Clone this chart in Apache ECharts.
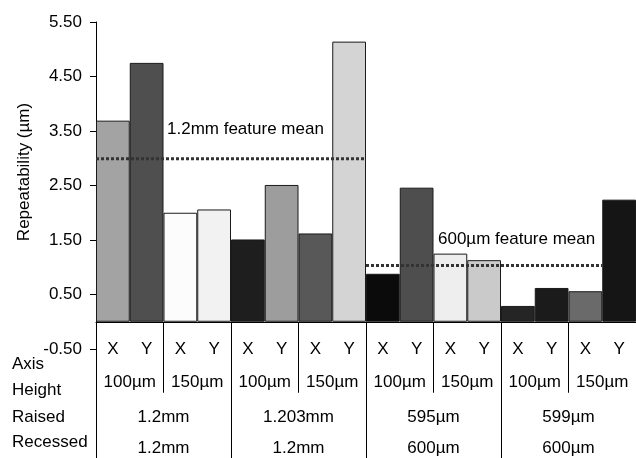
<!DOCTYPE html>
<html>
<head>
<meta charset="utf-8">
<script src="https://cdn.jsdelivr.net/npm/echarts@6/dist/echarts.min.js"></script>
<style>
html,body{margin:0;padding:0;background:#fff;}
#chart{width:636px;height:458px;}
</style>
</head>
<body>
<div id="chart"></div>
<script>
// ---- data ----
var axisLabels = ['X','Y','X','Y','X','Y','X','Y','X','Y','X','Y','X','Y','X','Y'];
var heightLabels = ['100µm','150µm','100µm','150µm','100µm','150µm','100µm','150µm'];
var raisedLabels = ['1.2mm','1.203mm','595µm','599µm'];
var recessedLabels = ['1.2mm','1.2mm','600µm','600µm'];
var repeatability = [3.69, 4.75, 2.00, 2.06, 1.51, 2.51, 1.62, 5.14, 0.88, 2.46, 1.25, 1.13, 0.29, 0.62, 0.56, 2.24];
var yTicks = {min: -0.5, max: 5.5, interval: 1};
var mean12mm = 2.99;   // spans categories 0..8
var mean600um = 1.03;  // spans categories 8..15
var meanLabels = ['1.2mm feature mean', '600µm feature mean'];
var rowNames = ['Axis', 'Height', 'Raised', 'Recessed'];

// ---- layout / styles ----
var GRID = {left: 96, right: 0, top: 22, bottom: 109};
var gridH = 458 - GRID.top - GRID.bottom;
// the category axes (table) sit on the value 0 line
var zeroOffset = -gridH * (0 - yTicks.min) / (yTicks.max - yTicks.min);

var barColors = ['#a3a3a3','#4f4f4f','#fcfcfc','#f2f2f2','#1e1e1e','#9d9d9d','#585858','#d4d4d4',
                 '#0b0b0b','#4e4e4e','#eeeeee','#cacaca','#252525','#1b1b1b','#6a6a6a','#151515'];
var FONT = "'Liberation Sans', Arial, sans-serif";
var txt = {color: '#000', fontSize: 17, fontFamily: FONT};

var chart = echarts.init(document.getElementById('chart'), null, {renderer: 'canvas'});

function catAxis(data, margin, tickLen, showLine) {
  return {
    type: 'category', data: data, position: 'bottom', offset: zeroOffset,
    axisLine: {show: !!showLine, onZero: false, lineStyle: {color: '#000', width: 1}},
    axisTick: tickLen ? {show: true, interval: 0, length: tickLen, lineStyle: {color: '#000', width: 1}} : {show: false},
    axisLabel: Object.assign({interval: 0, margin: margin}, txt),
    splitLine: {show: false}
  };
}

var option = {
  animation: false,
  backgroundColor: '#fff',
  grid: Object.assign({containLabel: false, outerBoundsMode: 'none'}, GRID),
  xAxis: [
    catAxis(axisLabels, 19, 0, true),
    catAxis(heightLabels, 52, 71),
    catAxis(raisedLabels, 87, 140),
    catAxis(recessedLabels, 118, 0),
    {type: 'value', min: 0, max: axisLabels.length, show: false, position: 'bottom',
     axisLine: {onZero: false}, splitLine: {show: false}}
  ],
  yAxis: {
    type: 'value', min: yTicks.min, max: yTicks.max, interval: yTicks.interval,
    name: 'Repeatability (µm)', nameLocation: 'middle', nameGap: 62,
    nameTextStyle: Object.assign({padding: [0, 0, 0, 27]}, txt),
    axisLine: {show: true, onZero: false, lineStyle: {color: '#000', width: 1}},
    axisTick: {show: true, length: 6, lineStyle: {color: '#000'}},
    axisLabel: Object.assign({margin: 14, formatter: function (v) { return v.toFixed(2); }}, txt),
    splitLine: {show: false}
  },
  series: [
    {
      type: 'bar', xAxisIndex: 0, barCategoryGap: '0%',
      data: repeatability.map(function (v, i) {
        return {value: v, itemStyle: {color: barColors[i]}};
      }),
      itemStyle: {borderColor: '#1a1a1a', borderWidth: 1}
    },
    {
      type: 'line', xAxisIndex: 4, symbol: 'none', z: 5,
      data: [[0, mean12mm], [8, mean12mm]],
      lineStyle: {color: '#333', width: 3, type: [3, 2]}
    },
    {
      type: 'line', xAxisIndex: 4, symbol: 'none', z: 5,
      data: [[8, mean600um], [15, mean600um]],
      lineStyle: {color: '#333', width: 3, type: [3, 2]}
    }
  ],
  graphic: [
    {type: 'text', z: 100, left: 167, top: 121, style: {text: meanLabels[0], fill: '#000', font: '17px ' + FONT}},
    {type: 'text', z: 100, left: 438, top: 231, style: {text: meanLabels[1], fill: '#000', font: '17px ' + FONT}},
    {type: 'text', z: 100, left: 12, top: 356, style: {text: rowNames[0], fill: '#000', font: '17px ' + FONT}},
    {type: 'text', z: 100, left: 12, top: 382, style: {text: rowNames[1], fill: '#000', font: '17px ' + FONT}},
    {type: 'text', z: 100, left: 12, top: 409, style: {text: rowNames[2], fill: '#000', font: '17px ' + FONT}},
    {type: 'text', z: 100, left: 12, top: 434, style: {text: rowNames[3], fill: '#000', font: '17px ' + FONT}}
  ]
};
chart.setOption(option);
</script>
</body>
</html>
